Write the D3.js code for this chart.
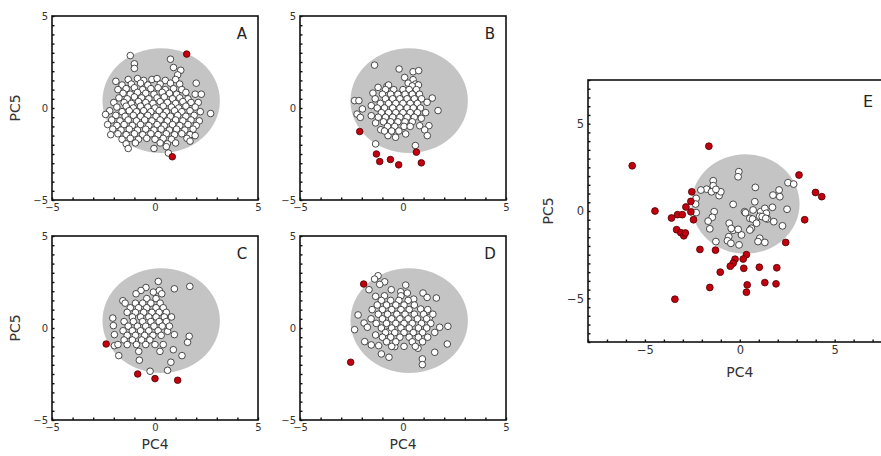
<!DOCTYPE html>
<html lang="en">
<head>
<meta charset="UTF-8">
<title>PC4 vs PC5</title>
<script src="https://d3js.org/d3.v7.min.js"></script>
<style>
  body { margin: 0; background: #fff; }
  svg { display: block; font-family: "DejaVu Sans", sans-serif; }
</style>
</head>
<body>
<div id="chart"></div>
<script>
// ---- data: [PC4, PC5] per sample ----
const ellipseCenter = [0.3, 0.4];
const ellipseRadius = 2.85;

const panelA_white = [
  [-1.2,2.85],[-1.0,2.4],[-1.0,2.15],[0.75,2.65],[0.9,2.2],[1.25,2.05],[1.1,1.8],
  [-1.9,1.45],[-1.3,1.55],[-0.85,1.6],[-0.55,1.5],[-0.15,1.55],[0.1,1.6],[0.5,1.5],[1.0,1.55],
  [-1.6,1.25],[-1.15,1.3],[-0.7,1.35],[-0.35,1.25],[0.25,1.3],[0.75,1.35],[1.2,1.3],[2.0,1.35],
  [-1.8,1.0],[-1.4,1.05],[-1.0,1.1],[-0.6,1.0],[-0.2,1.05],[0.15,1.1],[0.5,1.0],[0.9,1.05],[1.3,1.0],
  [-1.55,0.8],[-1.2,0.75],[-0.85,0.85],[-0.45,0.8],[-0.05,0.75],[0.35,0.85],[0.7,0.8],[1.05,0.75],[1.5,0.85],[1.95,0.75],[2.25,0.75],
  [-1.75,0.55],[-1.35,0.5],[-1.0,0.6],[-0.65,0.55],[-0.3,0.5],[0.1,0.55],[0.45,0.6],[0.85,0.5],[1.2,0.55],[1.6,0.5],
  [-2.0,0.3],[-1.5,0.3],[-1.15,0.25],[-0.8,0.35],[-0.45,0.3],[-0.1,0.25],[0.25,0.35],[0.6,0.3],[1.0,0.25],[1.35,0.35],[1.75,0.3],[2.1,0.3],
  [-1.85,0.05],[-1.4,0.1],[-1.05,0.0],[-0.7,0.1],[-0.35,0.05],[0.0,0.0],[0.4,0.1],[0.8,0.05],[1.15,0.0],[1.5,0.1],[1.95,0.05],
  [-2.2,-0.15],[-1.6,-0.2],[-1.25,-0.15],[-0.9,-0.2],[-0.55,-0.15],[-0.2,-0.2],[0.2,-0.15],[0.55,-0.2],[0.95,-0.15],[1.3,-0.2],[1.7,-0.15],[2.2,-0.2],
  [-2.4,-0.35],[-1.9,-0.4],[-1.45,-0.45],[-1.05,-0.4],[-0.7,-0.45],[-0.35,-0.4],[0.05,-0.45],[0.4,-0.4],[0.75,-0.45],[1.1,-0.4],[1.5,-0.45],[1.9,-0.4],[2.7,-0.3],
  [-2.1,-0.65],[-1.7,-0.7],[-1.3,-0.65],[-0.9,-0.7],[-0.5,-0.65],[-0.15,-0.7],[0.25,-0.65],[0.6,-0.7],[1.0,-0.65],[1.35,-0.7],[1.75,-0.65],[2.15,-0.7],
  [-2.3,-0.9],[-1.85,-0.95],[-1.5,-0.9],[-1.1,-0.95],[-0.7,-0.9],[-0.3,-0.95],[0.1,-0.9],[0.45,-0.95],[0.85,-0.9],[1.2,-0.95],[1.6,-0.9],[2.0,-0.95],
  [-2.05,-1.15],[-1.65,-1.2],[-1.25,-1.15],[-0.85,-1.2],[-0.45,-1.15],[-0.05,-1.2],[0.3,-1.15],[0.7,-1.2],[1.05,-1.15],[1.45,-1.2],[1.85,-1.15],
  [-2.15,-1.45],[-1.8,-1.4],[-1.4,-1.45],[-1.0,-1.4],[-0.6,-1.45],[-0.2,-1.4],[0.15,-1.45],[0.55,-1.4],[0.95,-1.45],[1.3,-1.4],[1.7,-1.45],
  [-1.6,-1.7],[-1.2,-1.65],[-0.8,-1.7],[-0.4,-1.65],[0.0,-1.7],[0.4,-1.65],[0.8,-1.7],[1.55,-1.65],[1.95,-1.5],
  [-1.4,-1.95],[-0.95,-1.9],[0.25,-1.9],[0.6,-1.95],[1.0,-1.9],[1.7,-1.8],
  [-1.3,-2.2],[-0.05,-2.2],[0.55,-2.1],[0.65,-2.45]
];
const panelA_red = [[1.54,2.93],[0.84,-2.65]];

const panelB_white = [
  [-1.38,2.33],[-0.19,2.12],[0.49,1.97],[0.76,2.03],[0.08,1.66],[0.49,1.54],[0.25,1.35],[0.6,1.3],
  [-1.21,1.12],[-0.78,1.18],[-1.46,0.81],[-2.35,0.4],[-2.14,0.4],[-1.97,-0.05],[-2.23,-0.33],[-2.07,-0.51],[-1.54,0.13],[-1.54,-0.42],
  [1.42,0.54],[1.7,-0.14],[1.17,0.31],[1.26,-0.96],[1.05,-1.19],[1.18,-1.5],[0.81,-0.96],[0.89,-0.56],
  [-1.33,-1.95],[0.6,-2.04],[-0.73,-1.5],[-0.36,-1.59],[0.13,-1.41],[-1.08,-1.18],[-1.33,-0.81],
  [-0.7,1.25],[0.45,1.2],[0.75,1.25],
  [-0.85,1.0],[-0.45,1.0],[0.0,1.0],[0.3,1.0],[0.65,1.0],
  [-1.0,0.75],[-0.6,0.75],[-0.25,0.75],[0.1,0.75],[0.45,0.75],[0.8,0.75],
  [-1.35,0.5],[-0.85,0.5],[-0.5,0.5],[-0.15,0.5],[0.2,0.5],[0.55,0.5],[0.9,0.5],
  [-1.1,0.25],[-0.7,0.25],[-0.35,0.25],[0.0,0.25],[0.35,0.25],[0.7,0.25],
  [-1.25,0.0],[-0.9,0.0],[-0.5,0.0],[-0.15,0.0],[0.2,0.0],[0.5,0.0],[0.85,0.0],
  [-1.05,-0.25],[-0.7,-0.25],[-0.35,-0.25],[0.0,-0.25],[0.35,-0.25],[0.7,-0.25],[1.1,-0.25],
  [-1.2,-0.5],[-0.85,-0.5],[-0.5,-0.5],[-0.15,-0.5],[0.2,-0.5],[0.55,-0.5],
  [-0.95,-0.75],[-0.6,-0.75],[-0.25,-0.75],[0.1,-0.75],[0.45,-0.75],
  [-0.75,-1.0],[-0.4,-1.0],[0.05,-1.0],[0.35,-1.0],
  [-0.9,-1.25],[-0.55,-1.25],[-0.2,-1.25]
];
const panelB_red = [[-2.1,-1.28],[-1.29,-2.5],[-1.13,-2.91],[-0.61,-2.8],[-0.21,-3.09],[0.65,-2.4],[0.89,-2.98]];

const panelC_white = [
  [0.16,2.53],[0.94,2.13],[1.69,2.26],[-0.44,2.2],[-0.68,2.04],[-0.92,1.86],[-0.08,1.95],[0.21,2.04],[0.33,1.86],[-1.56,1.48],
  [-2.05,0.54],[-2.02,0.13],[-1.97,-0.36],[-1.97,-0.96],[-1.76,-1.5],[1.66,-0.45],[1.58,-0.78],[1.31,-1.5],[0.89,-1.18],
  [0.77,-1.86],[0.61,-2.3],[-0.24,-2.35],[-0.76,-1.75],[-0.79,-1.27],[0.24,-1.27],[0.94,-0.36],[0.61,-0.18],
  [-0.4,1.6],[0.05,1.6],
  [-1.45,1.35],[-0.95,1.35],[-0.6,1.35],[-0.2,1.35],[0.25,1.35],
  [-1.2,1.1],[-0.8,1.1],[-0.4,1.1],[0.05,1.1],[0.4,1.1],
  [-1.35,0.85],[-0.95,0.85],[-0.55,0.85],[-0.15,0.85],[0.2,0.85],[0.55,0.85],
  [-1.1,0.6],[-0.7,0.6],[-0.3,0.6],[0.05,0.6],[0.45,0.6],[0.8,0.6],
  [-1.5,0.35],[-1.05,0.35],[-0.6,0.35],[-0.2,0.35],[0.2,0.35],[0.55,0.35],
  [-1.3,0.1],[-0.85,0.1],[-0.45,0.1],[-0.05,0.1],[0.35,0.1],[0.7,0.1],
  [-1.55,-0.15],[-1.1,-0.15],[-0.7,-0.15],[-0.3,-0.15],[0.15,-0.15],
  [-1.35,-0.4],[-0.95,-0.4],[-0.5,-0.4],[-0.1,-0.4],[0.3,-0.4],
  [-1.5,-0.65],[-1.1,-0.65],[-0.65,-0.65],[-0.25,-0.65],
  [-1.8,-0.9],[-1.35,-0.9],[-0.9,-0.9],[-0.45,-0.9],[0.0,-0.9],[0.4,-0.9]
];
const panelC_red = [[-2.37,-0.87],[-0.84,-2.5],[0.0,-2.75],[1.1,-2.84]];

const panelD_white = [
  [-1.21,2.84],[-1.38,2.66],[-0.89,2.51],[-1.13,2.37],[-1.65,2.08],[-1.33,1.72],[0.13,2.33],[-0.57,2.08],[-0.11,1.97],[0.21,1.9],
  [0.97,1.9],[1.17,1.66],[1.62,1.63],[0.52,1.57],
  [-2.18,0.71],[-2.35,-0.09],[-1.89,0.27],[-1.73,0.04],[-1.86,-0.74],[-1.54,-0.92],[-1.33,-0.38],[-1.18,-0.96],[-1.05,-1.41],
  [-0.68,-1.59],[-0.4,-1.01],[-0.7,-0.2],
  [2.18,0.09],[2.15,-0.87],[1.54,-1.32],[0.94,-1.68],[0.94,-1.99],[0.73,-1.1],[1.78,0.04],[1.54,-0.24],[1.29,0.58],[0.86,1.03],
  [-0.9,1.75],[-0.1,1.75],
  [-1.05,1.5],[-0.6,1.5],[-0.2,1.5],[0.25,1.5],
  [-1.25,1.25],[-0.8,1.25],[-0.35,1.25],[0.05,1.25],[0.55,1.25],
  [-1.5,1.0],[-1.0,1.0],[-0.55,1.0],[-0.1,1.0],[0.3,1.0],[1.2,1.0],
  [-1.2,0.75],[-0.75,0.75],[-0.3,0.75],[0.1,0.75],[0.55,0.75],[1.0,0.75],[1.45,0.75],
  [-1.55,0.5],[-1.0,0.5],[-0.55,0.5],[-0.15,0.5],[0.25,0.5],[0.7,0.5],[1.15,0.5],
  [-1.3,0.25],[-0.8,0.25],[-0.35,0.25],[0.05,0.25],[0.45,0.25],[0.9,0.25],[1.35,0.25],
  [-1.05,0.0],[-0.55,0.0],[-0.1,0.0],[0.3,0.0],[0.75,0.0],[1.15,0.0],
  [-0.85,-0.25],[-0.4,-0.25],[0.05,-0.25],[0.5,-0.25],[0.95,-0.25],
  [-1.0,-0.5],[-0.6,-0.5],[-0.15,-0.5],[0.3,-0.5],[0.75,-0.5],[1.2,-0.5],
  [-0.8,-0.75],[-0.35,-0.75],[0.45,-0.75],[0.95,-0.75],
  [-0.55,-1.0],[0.05,-1.0],[0.6,-1.0]
];
const panelD_red = [[-1.91,2.39],[-2.54,-1.86]];

const panelE_white = [
  [-0.05,2.25],[-0.09,1.96],[-1.4,1.73],[-1.4,1.45],[-1.75,1.25],[-2.05,1.2],[-1.49,1.1],[-1.09,0.88],[-1.0,1.1],[-1.26,1.24],
  [-2.3,0.72],[-2.33,0.4],[-2.3,-0.09],
  [-0.35,0.38],[0.82,1.35],[0.79,0.53],[0.25,-0.04],[0.7,0.06],[1.1,-0.04],[0.53,-0.42],[0.61,-0.99],
  [-1.35,-0.04],[-1.45,-0.36],[-1.67,-0.58],[-1.58,-1.02],[-1.26,-1.75],
  [-0.58,-1.47],[-0.65,-1.7],[-0.47,-1.85],[-0.04,-1.94],[-0.35,-1.1],[0.09,-1.37],[-0.09,-1.05],[-0.56,-0.7],[-0.45,-1.0],
  [0.3,-0.1],[0.67,-0.46],[0.53,-1.09],[0.88,-0.7],[1.05,-1.56],[1.32,-1.8],[0.96,-1.75],
  [1.05,-0.3],[1.32,0.15],[1.4,-0.13],[1.46,-0.46],[1.72,0.21],[1.79,-0.61],[2.07,1.2],[1.75,0.91],[2.11,0.82],
  [2.54,1.62],[2.84,1.54],[2.49,0.1],[2.25,-0.85],[1.18,-0.32],[1.37,-0.42]
];
const panelE_red = [
  [-5.67,2.59],[-1.63,3.71],[-4.47,0.0],[-3.6,-0.4],[-3.28,-0.21],[-3.03,-0.21],[-2.84,0.23],[-2.58,0.55],[-2.53,1.1],
  [-2.58,-0.05],[-2.44,-0.5],[-3.33,-1.07],[-3.11,-1.24],[-2.95,-1.42],[-2.87,-1.26],
  [-2.1,-2.2],[-1.28,-2.24],[0.35,-2.5],[0.18,-2.75],[0.21,-3.28],[-0.25,-2.76],[-0.35,-2.99],[-0.5,-3.16],
  [-1.03,-3.5],[-1.58,-4.38],[1.03,-3.22],[1.95,-3.25],[1.32,-4.1],[1.91,-4.17],[0.39,-4.23],[0.35,-4.65],
  [-3.42,-5.05],[2.42,-1.8],[3.12,2.06],[3.99,1.06],[4.32,0.82],[3.42,-0.5]
];

const tickLabels = [-5, 0, 5];

// ---- panel layout ----
const panels = [
  {name: "A", left: 52, top: 16, width: 206, height: 184, xDomain: [-5, 5], yDomain: [-5, 5],
   white: panelA_white, red: panelA_red, xLabel: false, yLabel: true, small: true},
  {name: "B", left: 300, top: 16, width: 206, height: 184, xDomain: [-5, 5], yDomain: [-5, 5],
   white: panelB_white, red: panelB_red, xLabel: false, yLabel: false, small: true},
  {name: "C", left: 52, top: 236, width: 206, height: 184, xDomain: [-5, 5], yDomain: [-5, 5],
   white: panelC_white, red: panelC_red, xLabel: true, yLabel: true, small: true},
  {name: "D", left: 300, top: 236, width: 206, height: 184, xDomain: [-5, 5], yDomain: [-5, 5],
   white: panelD_white, red: panelD_red, xLabel: true, yLabel: false, small: true},
  {name: "E", left: 588, top: 80, width: 296, height: 262, xDomain: [-8, 7.6], yDomain: [-7.5, 7.5],
   white: panelE_white, red: panelE_red, xLabel: true, yLabel: true, small: false}
];

const svg = d3.select("#chart").append("svg")
  .attr("width", 881)
  .attr("height", 456);

const fmt = d => tickLabels.includes(d) ? (d < 0 ? "\u2212" + Math.abs(d) : String(d)) : "";

panels.forEach(p => {
  const x = d3.scaleLinear().domain(p.xDomain).range([p.left, p.left + p.width]);
  const y = d3.scaleLinear().domain(p.yDomain).range([p.top + p.height, p.top]);
  const g = svg.append("g");
  const tickFont = p.small ? 10 : 11.5;
  const r = p.small ? 3.3 : 3.4;

  g.append("clipPath").attr("id", "clip" + p.name)
    .append("rect")
    .attr("x", p.left).attr("y", p.top)
    .attr("width", p.width).attr("height", p.height);

  const plot = g.append("g").attr("clip-path", `url(#clip${p.name})`);

  plot.append("ellipse")
    .attr("cx", x(ellipseCenter[0]))
    .attr("cy", y(ellipseCenter[1]))
    .attr("rx", x(ellipseCenter[0] + ellipseRadius) - x(ellipseCenter[0]))
    .attr("ry", y(ellipseCenter[1]) - y(ellipseCenter[1] + ellipseRadius))
    .attr("fill", "#c4c4c4");

  plot.selectAll("circle.white")
    .data(p.white)
    .join("circle")
    .attr("class", "white")
    .attr("cx", d => x(d[0]))
    .attr("cy", d => y(d[1]))
    .attr("r", r)
    .attr("fill", "#fff")
    .attr("stroke", "#222")
    .attr("stroke-width", 0.8);

  plot.selectAll("circle.red")
    .data(p.red)
    .join("circle")
    .attr("class", "red")
    .attr("cx", d => x(d[0]))
    .attr("cy", d => y(d[1]))
    .attr("r", r)
    .attr("fill", "#c40010")
    .attr("stroke", "#4a0000")
    .attr("stroke-width", 0.8);

  // axes with inward ticks
  const xTicks = d3.range(Math.ceil(p.xDomain[0]), Math.floor(p.xDomain[1]) + 1);
  const yTicks = d3.range(p.yDomain[0] * 2, p.yDomain[1] * 2 + 1).map(d => d / 2);

  const xAxis = g.append("g")
    .attr("transform", `translate(0,${p.top + p.height})`)
    .call(d3.axisBottom(x).tickValues(xTicks).tickFormat(fmt).tickSizeInner(-2.5).tickSizeOuter(0).tickPadding(4));
  const yAxis = g.append("g")
    .attr("transform", `translate(${p.left},0)`)
    .call(d3.axisLeft(y).tickValues(yTicks).tickFormat(fmt).tickSizeInner(-2.5).tickSizeOuter(0).tickPadding(4));

  [xAxis, yAxis].forEach(a => {
    a.select(".domain").remove();
    a.selectAll(".tick line").attr("stroke", "#111").attr("stroke-width", 1.4);
    a.selectAll("text")
      .attr("font-family", "DejaVu Sans, sans-serif")
      .attr("font-size", tickFont)
      .attr("fill", "#333");
  });

  g.append("rect")
    .attr("x", p.left).attr("y", p.top)
    .attr("width", p.width).attr("height", p.height)
    .attr("fill", "none")
    .attr("stroke", "#111")
    .attr("stroke-width", 1.6);

  g.append("text")
    .attr("x", p.left + p.width - 16)
    .attr("y", p.top + (p.small ? 23 : 27))
    .attr("text-anchor", "middle")
    .attr("font-size", p.small ? 15 : 16)
    .attr("fill", "#222")
    .text(p.name);

  if (p.xLabel) {
    g.append("text")
      .attr("x", x(0))
      .attr("y", p.top + p.height + (p.small ? 29 : 35))
      .attr("text-anchor", "middle")
      .attr("font-size", 14)
      .attr("fill", "#333")
      .text("PC4");
  }
  if (p.yLabel) {
    const cy = y(0);
    const lx = p.small ? p.left - 32 : p.left - 35;
    g.append("text")
      .attr("transform", `translate(${lx},${cy}) rotate(-90)`)
      .attr("text-anchor", "middle")
      .attr("font-size", 14)
      .attr("fill", "#333")
      .text("PC5");
  }
});
</script>
</body>
</html>
